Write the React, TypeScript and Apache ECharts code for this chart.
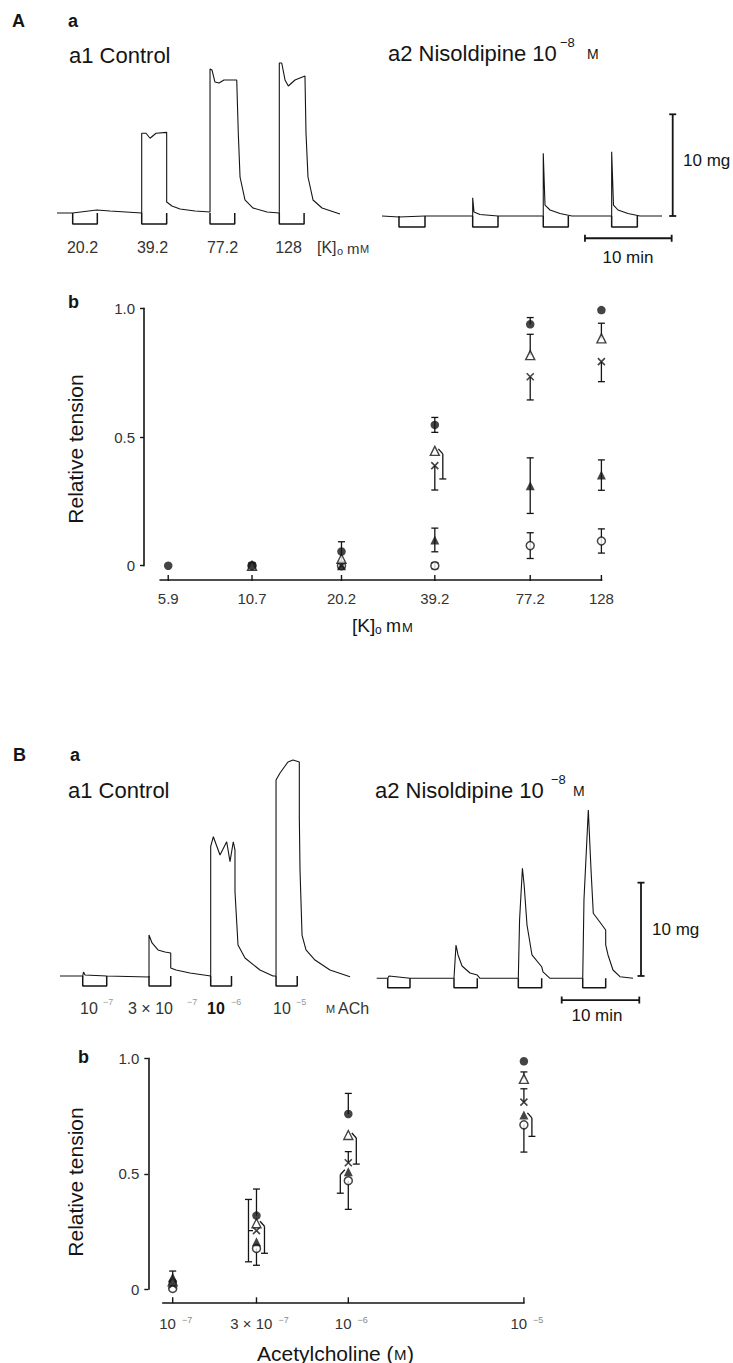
import { useEffect, useRef } from "react";
import * as echarts from "echarts";

const FONT = "'Liberation Sans', Arial, 'DejaVu Sans', sans-serif";
const INK = "#151515";

type Pt = [number, number];
type Nullable = (number | null)[];

// ---------------- Panel A b : [K]o concentration – relative tension ----------------
const K_CONC = [5.9, 10.7, 20.2, 39.2, 77.2, 128];
const K_TICK_BASE = ["5.9", "10.7", "20.2", "39.2", "77.2", "128"];
const K_TICK_EXP = ["", "", "", "", "", ""];
const A_FILLED_CIRCLE: Nullable = [0, 0, 0.055, 0.547, 0.938, 0.993];
const A_FILLED_CIRCLE_SE = [0, 0, 0.038, 0.029, 0.026, 0];
const A_OPEN_TRIANGLE: Nullable = [null, 0, 0.027, 0.446, 0.818, 0.883];
const A_OPEN_TRIANGLE_SE = [0, 0, 0, 0.109, 0.081, 0.059];
const A_CROSS: Nullable = [null, 0, 0, 0.389, 0.734, 0.793];
const A_CROSS_SE = [0, 0, 0, 0.095, 0.09, 0.078];
const A_FILLED_TRIANGLE: Nullable = [null, 0, 0, 0.1, 0.311, 0.352];
const A_FILLED_TRIANGLE_SE = [0, 0, 0, 0.046, 0.108, 0.059];
const A_OPEN_CIRCLE: Nullable = [null, 0, 0, 0, 0.078, 0.096];
const A_OPEN_CIRCLE_SE = [0, 0, 0, 0.012, 0.05, 0.047];

// ---------------- Panel B b : acetylcholine – relative tension ----------------
const ACH_CONC = [1e-7, 3e-7, 1e-6, 1e-5];
const ACH_TICK_BASE = ["10", "3 × 10", "10", "10"];
const ACH_TICK_EXP = ["−7", "−7", "−6", "−5"];
const B_FILLED_CIRCLE: Nullable = [0.03, 0.319, 0.759, 0.987];
const B_FILLED_CIRCLE_SE = [0, 0.115, 0.089, 0];
const B_OPEN_TRIANGLE: Nullable = [0.035, 0.286, 0.668, 0.911];
const B_OPEN_TRIANGLE_SE = [0, 0.13, 0.126, 0.03];
const B_CROSS: Nullable = [0.02, 0.254, 0.548, 0.81];
const B_CROSS_SE = [0, 0.135, 0.048, 0.058];
const B_FILLED_TRIANGLE: Nullable = [0.052, 0.206, 0.509, 0.755];
const B_FILLED_TRIANGLE_SE = [0.027, 0, 0.093, 0.093];
const B_OPEN_CIRCLE: Nullable = [0.004, 0.177, 0.47, 0.712];
const B_OPEN_CIRCLE_SE = [0, 0.073, 0.124, 0.118];

// ---------------- Tension recordings (time in min, tension in mg) ----------------
const A_CONTROL_TRACE: Pt[] = [
  [0, 0], [1.81, 0], [4.58, 0.3], [6.11, 0.2], [9.77, 0], [9.77, 7.84], [10.27, 7.84],
  [10.73, 7.35], [11.42, 7.84], [12.65, 7.93], [12.65, 1.08], [13.26, 0.69], [14.19, 0.39],
  [15.92, 0.2], [17.65, 0.1], [17.65, 14.16], [17.88, 14.06], [18.22, 12.88], [18.69, 12.78],
  [19.26, 13.08], [20.73, 13.08], [20.91, 7.87], [21.11, 3.54], [21.68, 1.28], [22.61, 0.49],
  [24.22, 0.1], [25.64, 0], [25.64, 14.75], [25.92, 14.75], [26.3, 13.08], [26.68, 12.49],
  [27.45, 13.08], [28.6, 13.47], [28.72, 7.87], [28.95, 3.54], [29.53, 1.28], [30.57, 0.49],
  [32.64, -0.1],
];
const A_CONTROL_PULSES: Pt[] = [[1.81, 4.65], [9.77, 12.65], [17.65, 20.5], [25.64, 28.5]];

const A_NISOL_TRACE: Pt[] = [
  [0, 0], [1.96, -0.1], [4.96, 0], [10.46, 0], [10.46, 1.8], [10.61, 0.39], [11.3, 0.15],
  [13.38, 0], [18.6, 0], [18.6, 6.17], [18.8, 1.08], [19.38, 0.59], [20.53, 0.25], [21.9, 0],
  [26.49, 0], [26.49, 6.32], [26.7, 1.08], [27.22, 0.59], [28.37, 0.25], [29.76, 0], [32.3, 0],
];
const A_NISOL_PULSES: Pt[] = [[1.96, 4.96], [10.46, 13.38], [18.6, 21.49], [26.49, 29.45]];

const B_CONTROL_TRACE: Pt[] = [
  [0, 0], [2.93, 0], [3.03, 0.43], [3.22, 0.1], [6.02, 0], [11.47, -0.1], [11.47, 4.39],
  [11.86, 3.54], [12.63, 2.79], [13.53, 2.57], [14.27, 2.47], [14.27, 0.86], [14.95, 0.64],
  [16.75, 0.32], [19.42, 0], [19.42, 13.9], [19.76, 14.93], [20.62, 12.97], [21.48, 14.39],
  [21.91, 12.25], [22.33, 14.39], [22.55, 13.5], [22.55, 9.04], [22.94, 3.32], [23.84, 1.93],
  [25.77, 0.64], [27.45, 0], [27.84, 0], [27.84, 21.0], [28.35, 21.76], [29.38, 22.94],
  [30.03, 23.15], [30.84, 22.94], [30.84, 17.04], [30.93, 11.36], [31.19, 4.39], [31.7, 2.79],
  [32.86, 1.71], [34.79, 0.64], [37.37, -0.08],
];
const B_CONTROL_PULSES: Pt[] = [[2.93, 6.02], [11.47, 14.27], [19.42, 22.1], [27.84, 30.57]];

const B_NISOL_TRACE: Pt[] = [
  [0, 0], [1.42, 0], [1.59, 0.25], [4.29, 0], [9.96, 0], [10.22, 3.57], [10.48, 2.5],
  [11.0, 1.32], [12.02, 0.57], [12.96, 0.35], [13.31, 0], [18.25, 0], [18.41, 6.25],
  [18.78, 11.79], [19.0, 10.0], [19.37, 5.71], [20.01, 2.5], [21.26, 1.24], [21.43, 0.68],
  [22.33, 0], [26.55, 0], [26.71, 8.39], [27.27, 18.04], [27.62, 11.61], [27.91, 6.97],
  [28.56, 6.25], [29.51, 5.18], [29.51, 3.57], [29.81, 2.5], [30.45, 0.89], [31.35, 0.17],
  [33.03, 0],
];
const B_NISOL_PULSES: Pt[] = [[1.42, 4.29], [9.96, 12.96], [18.25, 21.26], [26.55, 29.51]];

const SCALE_BAR_MG = 10;
const SCALE_BAR_MIN = 10;

// ---------------- Layout (pixels) ----------------
const TRACE_PANELS = [
  { trace: A_CONTROL_TRACE, pulses: A_CONTROL_PULSES, x0: 57, y0: 213, pxMin: 8.67, pxMg: 10.17, left: 45, top: 40, width: 310, height: 210, depth: 1.08, scale: null as any },
  { trace: A_NISOL_TRACE, pulses: A_NISOL_PULSES, x0: 382, y0: 216, pxMin: 8.67, pxMg: 10.17, left: 370, top: 100, width: 320, height: 150, depth: 1.08, scale: { vx: 33.53, vy: 0, hx: 23.41, hy: -2.19 } },
  { trace: B_CONTROL_TRACE, pulses: B_CONTROL_PULSES, x0: 60, y0: 976, pxMin: 7.76, pxMg: 9.33, left: 50, top: 740, width: 310, height: 260, depth: 1.07, scale: null as any },
  { trace: B_NISOL_TRACE, pulses: B_NISOL_PULSES, x0: 376.7, y0: 978.3, pxMin: 7.76, pxMg: 9.33, left: 365, top: 780, width: 290, height: 230, depth: 1.0, scale: { vx: 34.06, vy: 0.25, hx: 23.84, hy: -2.33 } },
];

const MARKERS: Record<string, any> = {
  openCircle: { symbol: "circle", symbolSize: 8, itemStyle: { color: "#fff", borderColor: INK, borderWidth: 1.5 }, z: 4 },
  cross: { symbol: "path://M0,0L10,10M10,0L0,10", symbolSize: 7, itemStyle: { color: "rgba(0,0,0,0)", borderColor: INK, borderWidth: 1.6 }, z: 5 },
  filledTriangle: { symbol: "triangle", symbolSize: 9, itemStyle: { color: INK }, z: 6 },
  openTriangle: { symbol: "triangle", symbolSize: 9, itemStyle: { color: "#fff", borderColor: INK, borderWidth: 1.4 }, z: 7 },
  filledCircle: { symbol: "circle", symbolSize: 8.5, itemStyle: { color: INK }, z: 8 },
};

// error bar drawing style: dir 1 = upper half only, 2 = lower half only; side = bracket offset direction
const ERR_BAR_STYLE: Record<string, { dir?: number; side?: number }> = {
  "A.openTriangle.3": { dir: 2, side: 1 },
  "A.openTriangle.4": { dir: 1 },
  "A.openTriangle.5": { dir: 1 },
  "A.cross.3": { dir: 2 },
  "A.cross.4": { dir: 2 },
  "A.cross.5": { dir: 2 },
  "A.filledCircle.4": { dir: 1 },
  "B.filledCircle.1": { dir: 1 },
  "B.filledCircle.2": { dir: 1 },
  "B.openTriangle.1": { dir: 2, side: 1 },
  "B.openTriangle.2": { dir: 2, side: 1 },
  "B.openTriangle.3": { dir: 1 },
  "B.cross.1": { side: -1 },
  "B.cross.2": { dir: 1 },
  "B.cross.3": { dir: 1 },
  "B.filledTriangle.0": { dir: 1 },
  "B.filledTriangle.2": { dir: 2, side: -1 },
  "B.filledTriangle.3": { dir: 2, side: 1 },
  "B.openCircle.1": { dir: 2 },
  "B.openCircle.2": { dir: 2 },
  "B.openCircle.3": { dir: 2 },
};

const DOSE_PANELS = [
  {
    key: "A", conc: K_CONC, tickBase: K_TICK_BASE, tickExp: K_TICK_EXP,
    series: {
      openCircle: [A_OPEN_CIRCLE, A_OPEN_CIRCLE_SE],
      cross: [A_CROSS, A_CROSS_SE],
      filledTriangle: [A_FILLED_TRIANGLE, A_FILLED_TRIANGLE_SE],
      openTriangle: [A_OPEN_TRIANGLE, A_OPEN_TRIANGLE_SE],
      filledCircle: [A_FILLED_CIRCLE, A_FILLED_CIRCLE_SE],
    } as Record<string, [Nullable, number[]]>,
    grid: { left: 160, top: 308.3, width: 441.7, height: 257.4 },
    xMin: 5.565, xMax: 128.27, xOffset: 14.3, yOffset: 16, labelDy: 18, labelDx: 0,
  },
  {
    key: "B", conc: ACH_CONC, tickBase: ACH_TICK_BASE, tickExp: ACH_TICK_EXP,
    series: {
      openCircle: [B_OPEN_CIRCLE, B_OPEN_CIRCLE_SE],
      cross: [B_CROSS, B_CROSS_SE],
      filledTriangle: [B_FILLED_TRIANGLE, B_FILLED_TRIANGLE_SE],
      openTriangle: [B_OPEN_TRIANGLE, B_OPEN_TRIANGLE_SE],
      filledCircle: [B_FILLED_CIRCLE, B_FILLED_CIRCLE_SE],
    } as Record<string, [Nullable, number[]]>,
    grid: { left: 162.7, top: 1058.3, width: 361.3, height: 231 },
    xMin: 8.771e-8, xMax: 1.0013e-5, xOffset: 13, yOffset: 14.4, labelDy: 21, labelDx: 3,
  },
];

function txt(text: string, x: number, y: number, size: number, opts: any = {}) {
  const align = opts.align ?? "left";
  return {
    type: "text", x, y, rotation: opts.rot ?? 0, silent: true,
    style: {
      text, fontSize: size, fontFamily: FONT, fontWeight: opts.weight ?? "normal",
      fill: opts.color ?? INK, textAlign: align, textVerticalAlign: "middle",
      align, verticalAlign: "middle",
    },
  };
}

const TEXTS = [
  // A
  txt("A", 12, 21, 18, { weight: "bold" }),
  txt("a", 68, 21, 18, { weight: "bold" }),
  txt("a1 Control", 69, 55, 22),
  txt("a2 Nisoldipine 10", 388, 53, 22),
  txt("−8", 560, 42, 13),
  txt("M", 587, 54, 14),
  txt("20.2", 82.5, 247, 16, { align: "center", color: "#333" }),
  txt("39.2", 152.5, 247, 16, { align: "center", color: "#333" }),
  txt("77.2", 222.5, 247, 16, { align: "center", color: "#333" }),
  txt("128", 288.5, 247, 16, { align: "center", color: "#333" }),
  txt("[K]", 317, 247, 16, { color: "#333" }),
  txt("o", 337, 251, 11, { color: "#333" }),
  txt("m", 347, 248, 15, { color: "#333" }),
  txt("M", 360, 249, 11, { color: "#333" }),
  txt("10 mg", 683, 160, 17),
  txt("10 min", 628, 257, 17, { align: "center" }),
  txt("b", 68, 302, 18, { weight: "bold" }),
  txt("Relative tension", 75, 449, 21, { align: "center", rot: Math.PI / 2 }),
  txt("[K]", 352, 625, 19),
  txt("o", 375, 630, 12),
  txt("m", 386, 626, 18),
  txt("M", 402, 627, 13),
  // B
  txt("B", 13, 755, 18, { weight: "bold" }),
  txt("a", 70, 755, 18, { weight: "bold" }),
  txt("a1 Control", 68, 790, 22),
  txt("a2 Nisoldipine 10", 375, 790, 22),
  txt("−8", 551, 779, 13),
  txt("M", 573, 791, 14),
  txt("10", 80, 1008, 16, { color: "#333" }),
  txt("−7", 103, 1002, 9, { color: "#999" }),
  txt("3 × 10", 128, 1008, 16, { color: "#333" }),
  txt("−7", 187, 1002, 9, { color: "#999" }),
  txt("10", 207, 1008, 16, { weight: "bold" }),
  txt("−6", 231, 1002, 9, { color: "#999" }),
  txt("10", 273, 1008, 16, { color: "#333" }),
  txt("−5", 296, 1002, 9, { color: "#999" }),
  txt("M", 326, 1009, 11, { color: "#333" }),
  txt("ACh", 338, 1008, 16, { color: "#333" }),
  txt("10 mg", 652, 929, 17),
  txt("10 min", 597, 1015, 17, { align: "center" }),
  txt("b", 78, 1057, 18, { weight: "bold" }),
  txt("Relative tension", 75, 1182, 21, { align: "center", rot: Math.PI / 2 }),
  txt("Acetylcholine (", 257, 1353, 21),
  txt("M", 394, 1354, 15),
  txt(")", 407, 1353, 21),
];

function buildOption() {
  const grid: any[] = [];
  const xAxis: any[] = [];
  const yAxis: any[] = [];
  const series: any[] = [];

  // recording panels
  TRACE_PANELS.forEach((p) => {
    const gi = grid.length;
    grid.push({ left: p.left, top: p.top, width: p.width, height: p.height });
    xAxis.push({ gridIndex: gi, type: "value", show: false, min: (p.left - p.x0) / p.pxMin, max: (p.left + p.width - p.x0) / p.pxMin });
    yAxis.push({ gridIndex: gi, type: "value", show: false, min: (p.y0 - p.top - p.height) / p.pxMg, max: (p.y0 - p.top) / p.pxMg });
    const common = { xAxisIndex: gi, yAxisIndex: gi, symbol: "none", silent: true, clip: false, animation: false };
    series.push({ ...common, type: "line", name: "trace", data: p.trace, lineStyle: { color: INK, width: 1.1 }, z: 3 });
    p.pulses.forEach(([s, e]) => {
      series.push({ ...common, type: "line", name: "pulse", data: [[s, 0], [s, -p.depth], [e, -p.depth], [e, 0]], lineStyle: { color: INK, width: 1.5 }, z: 2 });
    });
    if (p.scale) {
      const sc = p.scale;
      series.push({ ...common, type: "line", name: "scale mg", symbol: "rect", symbolSize: [7, 1.8], showSymbol: true, data: [[sc.vx, sc.vy], [sc.vx, sc.vy + SCALE_BAR_MG]], lineStyle: { color: INK, width: 1.8 }, itemStyle: { color: INK } });
      series.push({ ...common, type: "line", name: "scale min", symbol: "rect", symbolSize: [1.8, 7], showSymbol: true, data: [[sc.hx, sc.hy], [sc.hx + SCALE_BAR_MIN, sc.hy]], lineStyle: { color: INK, width: 1.8 }, itemStyle: { color: INK } });
    }
  });

  // dose-response panels
  DOSE_PANELS.forEach((d) => {
    const gi = grid.length;
    grid.push(d.grid);
    xAxis.push({
      gridIndex: gi, type: "log", logBase: 10, min: d.xMin, max: d.xMax, offset: d.xOffset, position: "bottom",
      axisLine: { show: true, onZero: false, lineStyle: { color: INK, width: 1.6 } },
      axisTick: { show: false }, axisLabel: { show: false }, splitLine: { show: false },
    });
    yAxis.push({
      gridIndex: gi, type: "value", min: 0, max: 1, interval: 0.5, offset: d.yOffset, position: "left",
      axisLine: { show: true, onZero: false, lineStyle: { color: INK, width: 1.6 } },
      axisTick: { show: true, length: 4, lineStyle: { color: INK, width: 1.4 } },
      axisLabel: {
        margin: 9, fontSize: 15, fontFamily: FONT, color: "#333",
        formatter: (v: number) => (v === 1 ? "1.0" : v === 0.5 ? "0.5" : "0"),
      },
      splitLine: { show: false },
    });

    // x ticks + labels at the tested concentrations
    series.push({
      type: "custom", name: "x ticks", xAxisIndex: gi, yAxisIndex: gi, silent: true, clip: false, z: 9,
      data: d.conc.map((c, i) => [c, 0, i]),
      renderItem: (_params: any, api: any) => {
        const pt = api.coord([api.value(0), 0]);
        const ay = pt[1] + d.xOffset;
        const i = api.value(2);
        const base = d.tickBase[i];
        const exp = d.tickExp[i];
        const text = exp ? `{b|${base}}{e|${exp}}` : `{b|${base}}`;
        return {
          type: "group",
          children: [
            { type: "line", shape: { x1: pt[0], y1: ay - 5, x2: pt[0], y2: ay + 1 }, style: { stroke: INK, lineWidth: 1.4 } },
            {
              type: "text", x: pt[0] + d.labelDx, y: ay + d.labelDy,
              style: {
                text, fontSize: 15, fontFamily: FONT, fill: "#333",
                textAlign: "center", textVerticalAlign: "middle", align: "center", verticalAlign: "middle",
                rich: {
                  b: { fontSize: 15, fontFamily: FONT, fill: "#333", color: "#333", verticalAlign: "bottom" },
                  e: { fontSize: 9, fontFamily: FONT, fill: "#888", color: "#888", verticalAlign: "top", padding: [0, 0, 0, 6] },
                },
              },
            },
          ],
        };
      },
    });

    // error bars
    const errData: number[][] = [];
    Object.keys(d.series).forEach((name) => {
      const [vals, se] = d.series[name];
      vals.forEach((v, i) => {
        if (v == null) return;
        const st = ERR_BAR_STYLE[`${d.key}.${name}.${i}`] || {};
        errData.push([d.conc[i], v, se[i], st.dir ?? 0, st.side ?? 0]);
      });
    });
    series.push({
      type: "custom", name: "error bars", xAxisIndex: gi, yAxisIndex: gi, silent: true, clip: false, z: 3,
      data: errData,
      renderItem: (_params: any, api: any) => {
        const x = api.value(0), v = api.value(1), se = api.value(2), dir = api.value(3), side = api.value(4);
        const children: any[] = [];
        if (!(se > 0)) return { type: "group", children };
        const c = api.coord([x, v]);
        const hi = api.coord([x, v + se]);
        const lo = api.coord([x, v - se]);
        const stroke = { stroke: INK, lineWidth: 1.3, fill: "none" };
        let bx = c[0];
        let topY = dir === 2 ? c[1] : hi[1];
        const botY = dir === 1 ? c[1] : lo[1];
        if (side !== 0) {
          bx = c[0] + side * 8;
          if (dir === 2) {
            children.push({ type: "polyline", shape: { points: [[c[0] + side * 3.5, c[1] - 2], [bx, c[1] + 3]] }, style: stroke });
            topY = c[1] + 3;
          } else {
            children.push({ type: "line", shape: { x1: c[0] + side * 3.5, y1: c[1], x2: bx, y2: c[1] }, style: stroke });
          }
        }
        children.push({ type: "line", shape: { x1: bx, y1: topY, x2: bx, y2: botY }, style: stroke });
        if (dir !== 2) children.push({ type: "line", shape: { x1: bx - 3.5, y1: hi[1], x2: bx + 3.5, y2: hi[1] }, style: stroke });
        if (dir !== 1) children.push({ type: "line", shape: { x1: bx - 3.5, y1: lo[1], x2: bx + 3.5, y2: lo[1] }, style: stroke });
        return { type: "group", children };
      },
    });

    // markers
    Object.keys(d.series).forEach((name) => {
      const [vals] = d.series[name];
      const m = MARKERS[name];
      series.push({
        type: "scatter", name, xAxisIndex: gi, yAxisIndex: gi, silent: true, clip: false,
        symbol: m.symbol, symbolSize: m.symbolSize, itemStyle: m.itemStyle, z: m.z,
        data: vals.map((v, i) => (v == null ? null : [d.conc[i], v])).filter((p) => p !== null),
      });
    });
  });

  return {
    animation: false,
    backgroundColor: "#fff",
    textStyle: { fontFamily: FONT },
    grid, xAxis, yAxis, series,
    graphic: { elements: TEXTS },
  };
}

export default function App() {
  const ref = useRef<HTMLDivElement>(null);
  useEffect(() => {
    if (!ref.current) return;
    const chart = echarts.init(ref.current, undefined, { renderer: "svg" });
    chart.setOption(buildOption() as any);
    return () => chart.dispose();
  }, []);
  return <div ref={ref} style={{ position: "absolute", left: 0, top: 0, width: 733, height: 1363, background: "#fff" }} />;
}
